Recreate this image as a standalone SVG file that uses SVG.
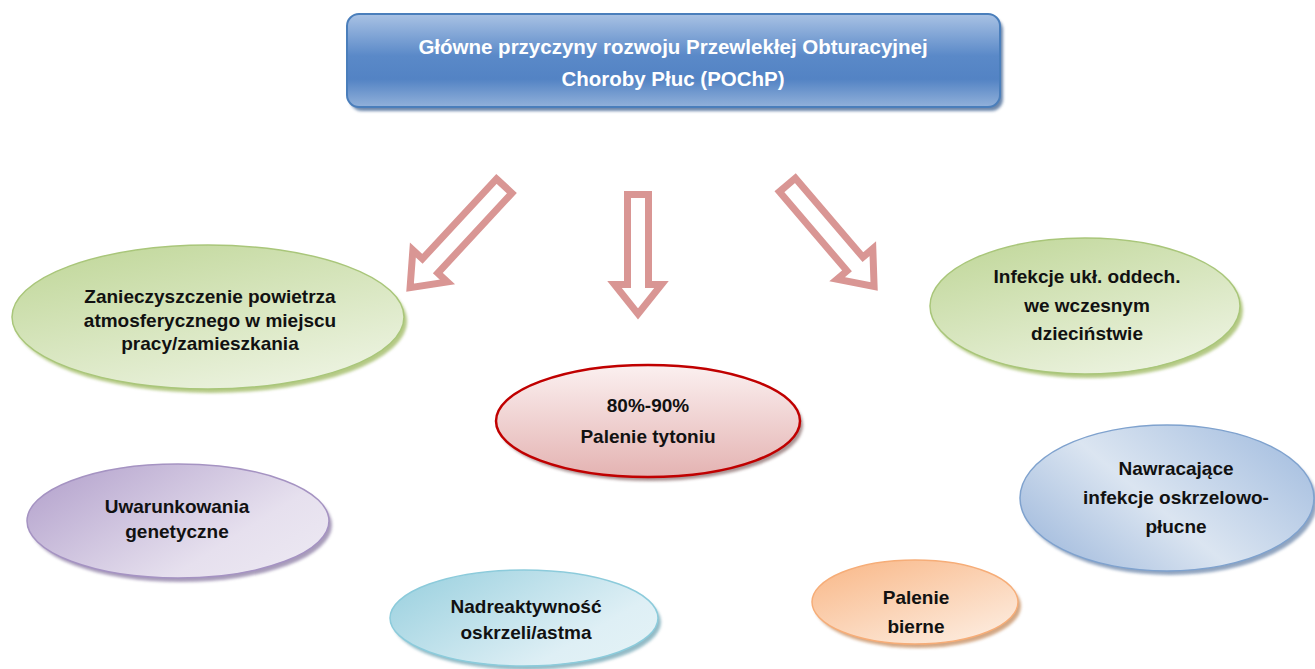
<svg xmlns="http://www.w3.org/2000/svg" width="1315" height="669" viewBox="0 0 1315 669">
<defs>
<linearGradient id="gTitle" x1="0" y1="0" x2="0" y2="1">
<stop offset="0" stop-color="#a9c2e4"/>
<stop offset="0.45" stop-color="#5a89c8"/>
<stop offset="0.7" stop-color="#5383c4"/>
<stop offset="1" stop-color="#92b1da"/>
</linearGradient>
<linearGradient id="gGreen" x1="0.2" y1="0" x2="0.8" y2="1">
<stop offset="0" stop-color="#c2d89c"/>
<stop offset="1" stop-color="#eef4e3"/>
</linearGradient>
<linearGradient id="gRed" x1="0" y1="0" x2="0" y2="1">
<stop offset="0" stop-color="#fbf0f0"/>
<stop offset="1" stop-color="#e4b3b2"/>
</linearGradient>
<linearGradient id="gPurple" x1="0" y1="0.2" x2="1" y2="0.8">
<stop offset="0" stop-color="#b6a5ce"/>
<stop offset="0.7" stop-color="#e6e0ee"/>
<stop offset="1" stop-color="#ece8f2"/>
</linearGradient>
<linearGradient id="gCyan" x1="0" y1="0.2" x2="1" y2="0.8">
<stop offset="0" stop-color="#9ed2e0"/>
<stop offset="0.75" stop-color="#deeff5"/>
<stop offset="1" stop-color="#e3f2f6"/>
</linearGradient>
<linearGradient id="gBlue" x1="0" y1="0.8" x2="1" y2="0.2">
<stop offset="0" stop-color="#a2bbdd"/>
<stop offset="0.45" stop-color="#dbe5f1"/>
<stop offset="1" stop-color="#a6bfe0"/>
</linearGradient>
<linearGradient id="gOrange" x1="0.1" y1="0" x2="0.9" y2="1">
<stop offset="0" stop-color="#f9b98a"/>
<stop offset="1" stop-color="#fdeee2"/>
</linearGradient>
<filter id="blur" x="-10%" y="-10%" width="120%" height="120%">
<feGaussianBlur stdDeviation="1.5"/>
</filter>
</defs>
<style>
.t{font-family:"Liberation Sans",Arial,sans-serif;font-weight:bold;font-size:19px;text-anchor:middle;fill:#111}
.tw{fill:#ffffff;font-size:20.5px}
.arrow{fill:#ffffff;stroke:#d99694;stroke-width:7;stroke-linejoin:miter;stroke-miterlimit:10}
.sh{filter:url(#blur);opacity:0.75}
</style>
<rect width="1315" height="669" fill="#ffffff"/>

<g id="title">
<rect x="350" y="18" width="653" height="93" rx="12" fill="#3a5f8f" class="sh"/>
<rect x="347" y="14" width="653" height="93" rx="12" fill="url(#gTitle)" stroke="#4a7ebb" stroke-width="2"/>
<text class="t tw" x="673" y="54">Główne przyczyny rozwoju Przewlekłej Obturacyjnej</text>
<text class="t tw" x="673" y="86">Choroby Płuc (POChP)</text>
</g>

<g id="connectors">
<polygon class="arrow" transform="translate(638,320)" points="-10.5,-125.5 10.5,-125.5 10.5,-35.5 23.5,-35.5 0,-6 -23.5,-35.5 -10.5,-35.5"/>
<polygon class="arrow" transform="translate(406,292) rotate(42.8)" points="-10.5,-144.5 10.5,-144.5 10.5,-35.5 23.5,-35.5 0,-6 -23.5,-35.5 -10.5,-35.5"/>
<polygon class="arrow" transform="translate(878,291) rotate(-40.5)" points="-10.5,-139.5 10.5,-139.5 10.5,-35.5 23.5,-35.5 0,-6 -23.5,-35.5 -10.5,-35.5"/>
</g>

<g id="node-zanieczyszczenie">
<ellipse cx="211" cy="321" rx="196" ry="72" fill="#9bb75c" class="sh"/>
<ellipse cx="208" cy="317" rx="196" ry="72" fill="url(#gGreen)" stroke="#a9c67a" stroke-width="1.5"/>
<text class="t" x="210" y="303">Zanieczyszczenie powietrza</text>
<text class="t" x="210" y="327">atmosferycznego w miejscu</text>
<text class="t" x="210" y="350">pracy/zamieszkania</text>
</g>

<g id="node-palenie-tytoniu">
<ellipse cx="651" cy="425" rx="152" ry="56" fill="#8c6e6e" class="sh"/>
<ellipse cx="648" cy="421" rx="152" ry="56" fill="url(#gRed)" stroke="#c00000" stroke-width="2.5"/>
<text class="t" x="648" y="412">80%-90%</text>
<text class="t" x="648" y="443">Palenie tytoniu</text>
</g>

<g id="node-infekcje">
<ellipse cx="1088" cy="310" rx="155" ry="68" fill="#9bb75c" class="sh"/>
<ellipse cx="1085" cy="306" rx="155" ry="68" fill="url(#gGreen)" stroke="#a9c67a" stroke-width="1.5"/>
<text class="t" x="1087" y="283">Infekcje ukł. oddech.</text>
<text class="t" x="1087" y="312">we wczesnym</text>
<text class="t" x="1087" y="340">dzieciństwie</text>
</g>

<g id="node-uwarunkowania">
<ellipse cx="181" cy="525" rx="151" ry="57" fill="#8a7aa3" class="sh"/>
<ellipse cx="178" cy="521" rx="151" ry="57" fill="url(#gPurple)" stroke="#a593c2" stroke-width="1.5"/>
<text class="t" x="177" y="513">Uwarunkowania</text>
<text class="t" x="177" y="538">genetyczne</text>
</g>

<g id="node-nadreaktywnosc">
<ellipse cx="527" cy="622" rx="134" ry="48" fill="#6fa4b3" class="sh"/>
<ellipse cx="524" cy="618" rx="134" ry="48" fill="url(#gCyan)" stroke="#8ccbdb" stroke-width="1.5"/>
<text class="t" x="526" y="613">Nadreaktywność</text>
<text class="t" x="526" y="639">oskrzeli/astma</text>
</g>

<g id="node-nawracajace">
<ellipse cx="1170" cy="502" rx="147" ry="73" fill="#6c86aa" class="sh"/>
<ellipse cx="1167" cy="498" rx="147" ry="73" fill="url(#gBlue)" stroke="#7fa2ce" stroke-width="1.5"/>
<text class="t" x="1176" y="475">Nawracające</text>
<text class="t" x="1176" y="504">infekcje oskrzelowo-</text>
<text class="t" x="1176" y="533">płucne</text>
</g>

<g id="node-palenie-bierne">
<ellipse cx="918" cy="606" rx="103" ry="42" fill="#c48a5c" class="sh"/>
<ellipse cx="915" cy="602" rx="103" ry="42" fill="url(#gOrange)" stroke="#f6ad78" stroke-width="1.5"/>
<text class="t" x="916" y="604">Palenie</text>
<text class="t" x="916" y="633">bierne</text>
</g>
</svg>
